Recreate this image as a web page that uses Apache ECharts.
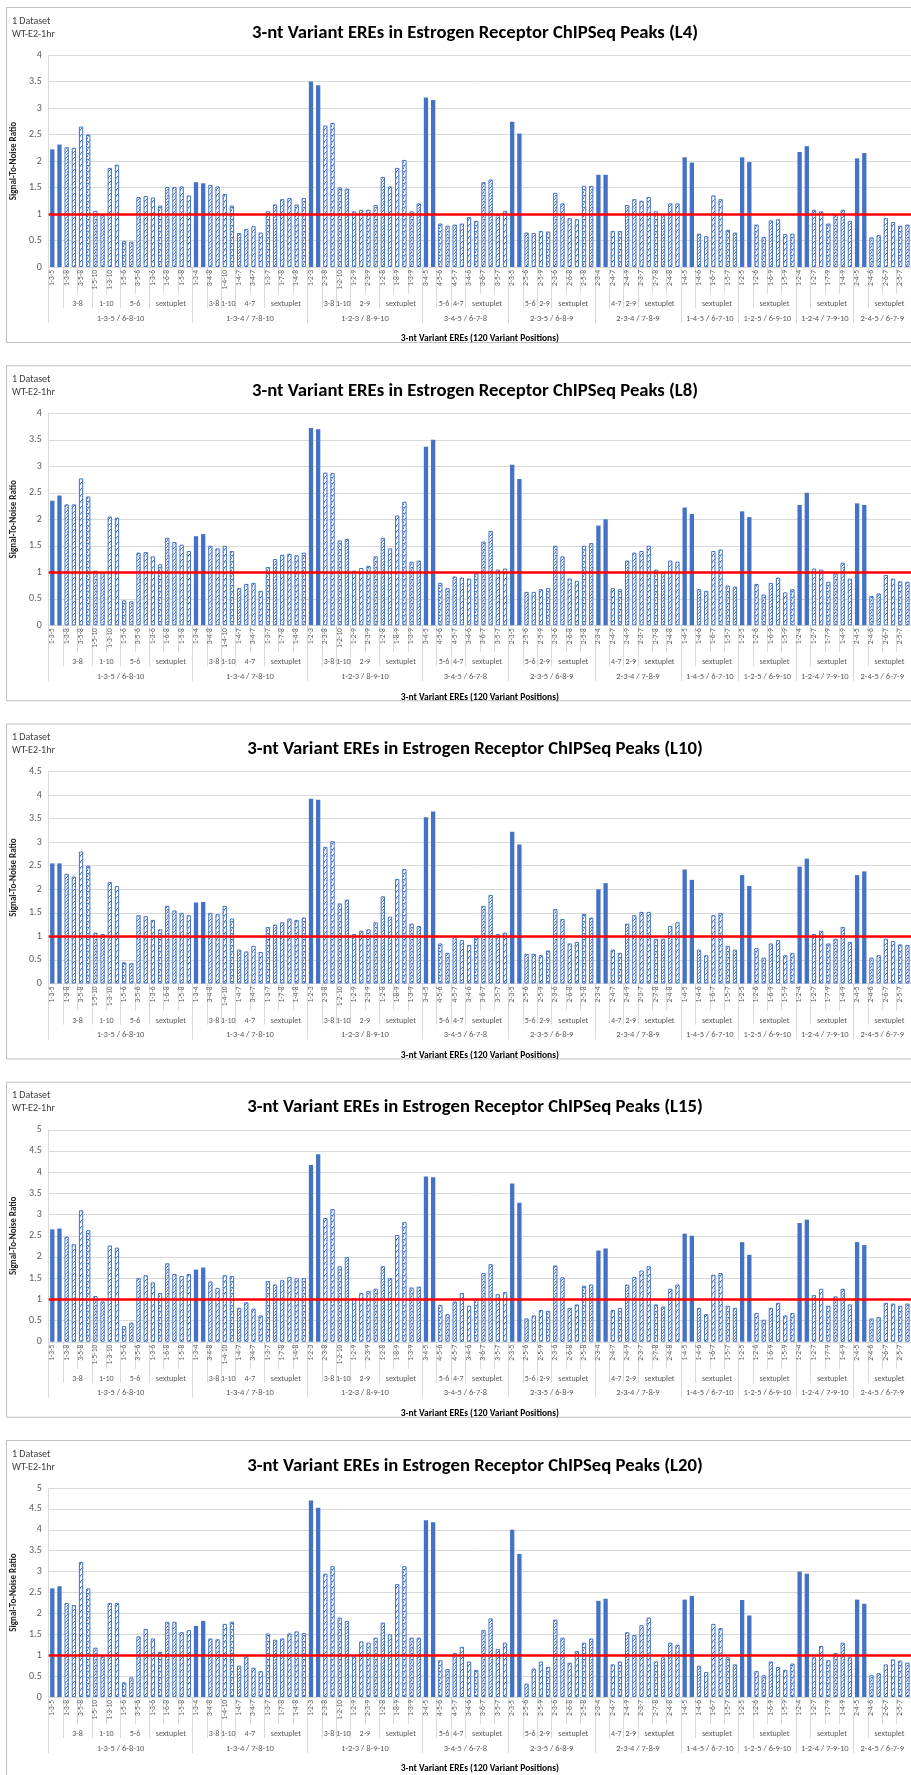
<!DOCTYPE html>
<html>
<head>
<meta charset="utf-8">
<script src="https://cdn.jsdelivr.net/npm/echarts@6/dist/echarts.min.js"></script>
<style>
html, body { margin: 0; padding: 0; background: #fff; }
#chart { width: 911px; height: 1775px; }
</style>
</head>
<body>
<div id="chart"></div>
<script>
// ---- Axis categories: 120 three-position ERE variants, grouped by mirror pairs ----
const groupNames = [
  '1-3-5 / 6-8-10', '1-3-4 / 7-8-10', '1-2-3 / 8-9-10', '3-4-5 / 6-7-8', '2-3-5 / 6-8-9',
  '2-3-4 / 7-8-9', '1-4-5 / 6-7-10', '1-2-5 / 6-9-10', '1-2-4 / 7-9-10', '2-4-5 / 6-7-9'
];
// sub-group label and number of variants in it, per group ('' = the two primary variants)
const subGroups = [
  [['', 2], ['3-8', 4], ['1-10', 4], ['5-6', 4], ['sextuplet', 6]],
  [['', 2], ['3-8', 2], ['1-10', 2], ['4-7', 4], ['sextuplet', 6]],
  [['', 2], ['3-8', 2], ['1-10', 2], ['2-9', 4], ['sextuplet', 6]],
  [['', 2], ['5-6', 2], ['4-7', 2], ['sextuplet', 6]],
  [['', 2], ['5-6', 2], ['2-9', 2], ['sextuplet', 6]],
  [['', 2], ['4-7', 2], ['2-9', 2], ['sextuplet', 6]],
  [['', 2], ['sextuplet', 6]],
  [['', 2], ['sextuplet', 6]],
  [['', 2], ['sextuplet', 6]],
  [['', 2], ['sextuplet', 6]]
];
const variants = [
  '1-3-5','6-8-10','1-3-8','3-8-10','3-5-8','3-6-8','1-5-10','1-6-10','1-3-10','1-8-10',
  '1-5-6','5-6-10','3-5-6','5-6-8','1-3-6','5-8-10','1-6-8','3-5-10','1-5-8','3-6-10',
  '1-3-4','7-8-10','3-4-8','3-7-8','1-4-10','1-7-10','1-4-7','4-7-10','3-4-7','4-7-8',
  '1-3-7','4-8-10','1-7-8','3-4-10','1-4-8','3-7-10',
  '1-2-3','8-9-10','2-3-8','3-8-9','1-2-10','1-9-10','1-2-9','2-9-10','2-3-9','2-8-9',
  '1-2-8','3-9-10','1-8-9','2-3-10','1-3-9','2-8-10',
  '3-4-5','6-7-8','4-5-6','5-6-7','4-5-7','4-6-7','3-4-6','5-7-8','3-6-7','4-5-8','3-5-7','4-6-8',
  '2-3-5','6-8-9','2-5-6','5-6-9','2-5-9','2-6-9','2-3-6','5-8-9','2-6-8','3-5-9','2-5-8','3-6-9',
  '2-3-4','7-8-9','2-4-7','4-7-9','2-4-9','2-7-9','2-3-7','4-8-9','2-7-8','3-4-9','2-4-8','3-7-9',
  '1-4-5','6-7-10','1-4-6','5-7-10','1-6-7','4-5-10','1-5-7','4-6-10',
  '1-2-5','6-9-10','1-2-6','5-9-10','1-6-9','2-5-10','1-5-9','2-6-10',
  '1-2-4','7-9-10','1-2-7','4-9-10','1-7-9','2-4-10','1-4-9','2-7-10',
  '2-4-5','6-7-9','2-4-6','5-7-9','2-6-7','4-5-9','2-5-7','4-6-9'
];

// ---- Signal-to-noise ratios per peak set ----
const snrL4 = [
  2.22,2.31,2.26,2.25,2.65,2.50,1.06,0.98,1.87,1.93,0.49,0.48,1.32,1.34,1.31,1.16,1.51,1.51,1.52,1.35,
  1.60,1.58,1.55,1.52,1.38,1.16,0.64,0.72,0.77,0.65,1.05,1.18,1.28,1.30,1.18,1.30,
  3.50,3.43,2.67,2.72,1.50,1.48,1.05,1.08,1.08,1.17,1.70,1.52,1.87,2.02,1.05,1.20,
  3.20,3.15,0.82,0.78,0.80,0.82,0.94,0.87,1.60,1.65,0.98,1.06,
  2.74,2.52,0.65,0.64,0.68,0.67,1.40,1.20,0.92,0.90,1.53,1.53,
  1.74,1.74,0.68,0.68,1.17,1.28,1.25,1.32,1.05,1.00,1.20,1.20,
  2.07,1.97,0.63,0.58,1.35,1.28,0.70,0.65,
  2.07,1.98,0.80,0.57,0.88,0.90,0.62,0.63,
  2.17,2.28,1.08,1.05,0.82,0.98,1.08,0.87,
  2.05,2.15,0.56,0.60,0.92,0.85,0.78,0.80
];
const snrL8 = [
  2.35,2.45,2.28,2.28,2.77,2.43,1.03,1.00,2.05,2.03,0.47,0.45,1.37,1.38,1.30,1.15,1.65,1.57,1.52,1.40,
  1.68,1.72,1.50,1.45,1.50,1.40,0.70,0.78,0.80,0.65,1.10,1.25,1.33,1.35,1.32,1.37,
  3.72,3.70,2.88,2.87,1.60,1.63,1.03,1.08,1.12,1.30,1.65,1.45,2.07,2.33,1.20,1.22,
  3.37,3.50,0.80,0.70,0.92,0.90,0.88,0.98,1.58,1.78,1.05,1.07,
  3.03,2.76,0.63,0.63,0.68,0.70,1.50,1.30,0.88,0.84,1.50,1.55,
  1.88,2.00,0.70,0.68,1.22,1.37,1.40,1.50,1.05,1.00,1.22,1.20,
  2.22,2.10,0.68,0.65,1.40,1.43,0.75,0.73,
  2.15,2.04,0.78,0.58,0.80,0.90,0.62,0.68,
  2.27,2.50,1.07,1.05,0.82,0.98,1.18,0.88,
  2.30,2.27,0.55,0.60,0.95,0.88,0.83,0.82
];
const snrL10 = [
  2.55,2.55,2.33,2.27,2.80,2.50,1.08,1.05,2.15,2.07,0.45,0.43,1.45,1.43,1.35,1.15,1.65,1.55,1.50,1.45,
  1.72,1.73,1.50,1.47,1.65,1.38,0.72,0.68,0.80,0.67,1.20,1.25,1.30,1.38,1.35,1.40,
  3.92,3.90,2.90,3.02,1.70,1.78,1.05,1.12,1.15,1.30,1.85,1.42,2.22,2.43,1.27,1.22,
  3.53,3.65,0.85,0.65,0.98,0.92,0.82,0.98,1.65,1.88,1.05,1.08,
  3.22,2.95,0.63,0.63,0.60,0.70,1.58,1.37,0.85,0.88,1.48,1.40,
  2.00,2.13,0.72,0.65,1.27,1.45,1.52,1.52,0.95,0.95,1.22,1.30,
  2.42,2.20,0.72,0.60,1.45,1.50,0.80,0.72,
  2.30,2.07,0.75,0.55,0.85,0.92,0.60,0.65,
  2.48,2.65,1.05,1.12,0.85,0.95,1.20,0.88,
  2.30,2.38,0.55,0.60,0.95,0.90,0.83,0.82
];
const snrL15 = [
  2.65,2.67,2.48,2.30,3.10,2.63,1.08,0.95,2.27,2.22,0.37,0.45,1.50,1.57,1.40,1.15,1.85,1.60,1.55,1.60,
  1.70,1.75,1.42,1.27,1.57,1.55,0.80,0.93,0.78,0.62,1.43,1.35,1.45,1.53,1.50,1.50,
  4.17,4.42,2.92,3.13,1.78,2.00,1.03,1.15,1.20,1.25,1.78,1.50,2.52,2.82,1.28,1.30,
  3.90,3.88,0.87,0.65,0.95,1.15,0.85,1.00,1.62,1.83,1.12,1.17,
  3.73,3.28,0.55,0.62,0.75,0.73,1.80,1.52,0.80,0.88,1.32,1.35,
  2.15,2.20,0.75,0.80,1.35,1.53,1.68,1.78,0.88,0.83,1.25,1.35,
  2.55,2.50,0.80,0.65,1.58,1.62,0.85,0.80,
  2.35,2.05,0.68,0.52,0.80,0.92,0.62,0.68,
  2.80,2.88,1.10,1.25,0.85,1.07,1.25,0.88,
  2.35,2.28,0.55,0.58,0.92,0.90,0.85,0.90
];
const snrL20 = [
  2.60,2.65,2.25,2.20,3.23,2.60,1.18,0.97,2.25,2.25,0.35,0.47,1.45,1.63,1.40,1.08,1.80,1.80,1.55,1.60,
  1.70,1.82,1.40,1.38,1.75,1.80,0.75,0.97,0.70,0.62,1.52,1.37,1.40,1.52,1.57,1.53,
  4.70,4.53,2.95,3.13,1.90,1.82,0.97,1.33,1.30,1.42,1.78,1.50,2.70,3.13,1.42,1.42,
  4.23,4.18,0.88,0.67,1.05,1.20,0.85,0.65,1.60,1.88,1.15,1.30,
  4.00,3.42,0.32,0.68,0.85,0.72,1.85,1.42,0.82,1.10,1.30,1.40,
  2.30,2.35,0.78,0.85,1.55,1.48,1.72,1.90,0.85,0.95,1.30,1.25,
  2.33,2.42,0.75,0.60,1.75,1.65,0.95,0.78,
  2.32,1.95,0.62,0.52,0.85,0.72,0.65,0.80,
  3.00,2.95,0.95,1.22,0.88,1.05,1.30,0.95,
  2.33,2.23,0.52,0.57,0.78,0.90,0.87,0.82
];

const panelSeries = [snrL4, snrL8, snrL10, snrL15, snrL20];
const panelTags = ['L4', 'L8', 'L10', 'L15', 'L20'];
const panelYMax = [4, 4, 4.5, 5, 5];
const yTickStep = 0.5;
const threshold = 1;

// ---- Layout ----
const FONT = 'Carlito, Calibri, Lato, "Liberation Sans", sans-serif';
const BLUE = '#4472C4';
const TEXT_GRAY = '#595959';
const LINE_GRAY = '#D9D9D9';
const PANEL_TOP0 = 7;
const PANEL_STEP = 358.25;
const PANEL_H = 335;
const PLOT_LEFT = 48.7;
const PLOT_W = 864;
const PLOT_OFF_TOP = 48;
const PLOT_H = 212;

// Category boundaries / centres for the sub-group and group label rows
const subEdges = [], subCenters = [], subLabelAt = {};
const grpEdges = [0], grpCenters = [], grpLabelAt = {};
let pos = 0;
subGroups.forEach((subs, gi) => {
  const start = pos;
  subs.forEach(([name, n]) => {
    subEdges.push(pos);
    if (name) {
      const c = pos + n / 2;
      subCenters.push(c);
      subLabelAt[c] = name;
    }
    pos += n;
  });
  grpEdges.push(pos);
  const gc = (start + pos) / 2;
  grpCenters.push(gc);
  grpLabelAt[gc] = groupNames[gi];
});
subEdges.push(pos);
const primaryIdx = new Set();
grpEdges.slice(0, -1).forEach(s => { primaryIdx.add(s); primaryIdx.add(s + 1); });

// Dashed upward-diagonal fill used for the non-primary variants
function makeHatch() {
  const c = document.createElement('canvas');
  c.width = 4; c.height = 6;
  const g = c.getContext('2d');
  g.fillStyle = '#ffffff';
  g.fillRect(0, 0, 4, 6);
  g.fillStyle = BLUE;
  [[3, 0], [2, 1], [1, 2], [0, 3], [3, 3]].forEach(([x, y]) => g.fillRect(x, y, 1, 1));
  g.fillStyle = 'rgba(68,114,196,0.55)';
  [[0, 4], [3, 5], [2, 4]].forEach(([x, y]) => g.fillRect(x, y, 1, 1));
  return c;
}
const hatch = { image: makeHatch(), repeat: 'repeat' };

const grids = [], xAxes = [], yAxes = [], series = [], graphics = [];

panelSeries.forEach((vals, p) => {
  const top = PANEL_TOP0 + p * PANEL_STEP;
  const gridTop = top + PLOT_OFF_TOP;

  graphics.push({
    type: 'rect', silent: true,
    shape: { x: 6.5, y: top + 0.5, width: 930, height: PANEL_H },
    style: { fill: 'none', stroke: '#BFBFBF', lineWidth: 1 }
  });
  graphics.push({
    type: 'text', silent: true, x: 12, y: top + 9,
    style: { text: '1 Dataset', font: '10px ' + FONT, fill: '#404040', textAlign: 'left', textVerticalAlign: 'top', align: 'left', verticalAlign: 'top' }
  });
  graphics.push({
    type: 'text', silent: true, x: 12, y: top + 22,
    style: { text: 'WT-E2-1hr', font: '10px ' + FONT, fill: '#404040', textAlign: 'left', textVerticalAlign: 'top', align: 'left', verticalAlign: 'top' }
  });
  graphics.push({
    type: 'text', silent: true, x: 475, y: top + 26,
    style: {
      text: '3-nt Variant EREs in Estrogen Receptor ChIPSeq Peaks (' + panelTags[p] + ')',
      font: 'bold 18.7px ' + FONT, fill: '#000000',
      textAlign: 'center', textVerticalAlign: 'middle', align: 'center', verticalAlign: 'middle'
    }
  });

  grids.push({ left: PLOT_LEFT, top: gridTop, width: PLOT_W, height: PLOT_H, containLabel: false });

  const xBase = xAxes.length;
  // leaf row: variant names, every other one labelled
  xAxes.push({
    type: 'category', gridIndex: p, position: 'bottom', data: variants,
    axisLine: { show: true, lineStyle: { color: LINE_GRAY, width: 1 } },
    axisTick: { show: true, interval: 1, length: 27, lineStyle: { color: LINE_GRAY } },
    axisLabel: { interval: 1, rotate: 90, fontSize: 7.5, color: TEXT_GRAY, margin: 3, fontFamily: FONT },
    splitLine: { show: false }
  });
  // sub-group row
  xAxes.push({
    type: 'value', gridIndex: p, position: 'bottom', min: 0, max: variants.length, offset: 0,
    axisLine: { show: false },
    axisTick: { show: true, customValues: subEdges, length: 41, lineStyle: { color: LINE_GRAY } },
    axisLabel: {
      show: true, customValues: subCenters, margin: 33, fontSize: 8, color: TEXT_GRAY, fontFamily: FONT,
      formatter: v => subLabelAt[v] || ''
    },
    splitLine: { show: false }
  });
  // group row + axis title
  xAxes.push({
    type: 'value', gridIndex: p, position: 'bottom', min: 0, max: variants.length, offset: 0,
    name: '3-nt Variant EREs (120 Variant Positions)', nameLocation: 'middle', nameGap: 67,
    nameTextStyle: { fontWeight: 'bold', fontSize: 9.5, color: '#000000', fontFamily: FONT },
    axisLine: { show: false },
    axisTick: { show: true, customValues: grpEdges, length: 56, lineStyle: { color: LINE_GRAY } },
    axisLabel: {
      show: true, customValues: grpCenters, margin: 47, fontSize: 8.5, color: TEXT_GRAY, fontFamily: FONT,
      formatter: v => grpLabelAt[v] || ''
    },
    splitLine: { show: false }
  });

  yAxes.push({
    type: 'value', gridIndex: p, min: 0, max: panelYMax[p], interval: yTickStep,
    name: 'Signal-To-Noise Ratio', nameLocation: 'middle', nameGap: 30, nameRotate: 90,
    nameTextStyle: { fontWeight: 'bold', fontSize: 9, color: '#262626', fontFamily: FONT },
    axisLine: { show: true, lineStyle: { color: LINE_GRAY } },
    axisTick: { show: false },
    axisLabel: { fontSize: 10, color: TEXT_GRAY, margin: 7, fontFamily: FONT },
    splitLine: { show: true, lineStyle: { color: LINE_GRAY, width: 1 } }
  });

  series.push({
    type: 'bar', xAxisIndex: xBase, yAxisIndex: p, barWidth: '60%',
    data: vals.map((v, i) => primaryIdx.has(i)
      ? { value: v, itemStyle: { color: BLUE, borderColor: BLUE, borderWidth: 0 } }
      : { value: v, itemStyle: { color: hatch, borderColor: BLUE, borderWidth: 1 } }),
    markLine: {
      silent: true, symbol: ['none', 'none'], label: { show: false },
      lineStyle: { color: '#FF0000', width: 2.5, type: 'solid' },
      data: [{ yAxis: threshold }]
    }
  });
});

const chart = echarts.init(document.getElementById('chart'), null, { renderer: 'canvas' });
chart.setOption({
  animation: false,
  backgroundColor: '#ffffff',
  textStyle: { fontFamily: FONT },
  grid: grids,
  xAxis: xAxes,
  yAxis: yAxes,
  series: series,
  graphic: { elements: graphics }
});
</script>
</body>
</html>
